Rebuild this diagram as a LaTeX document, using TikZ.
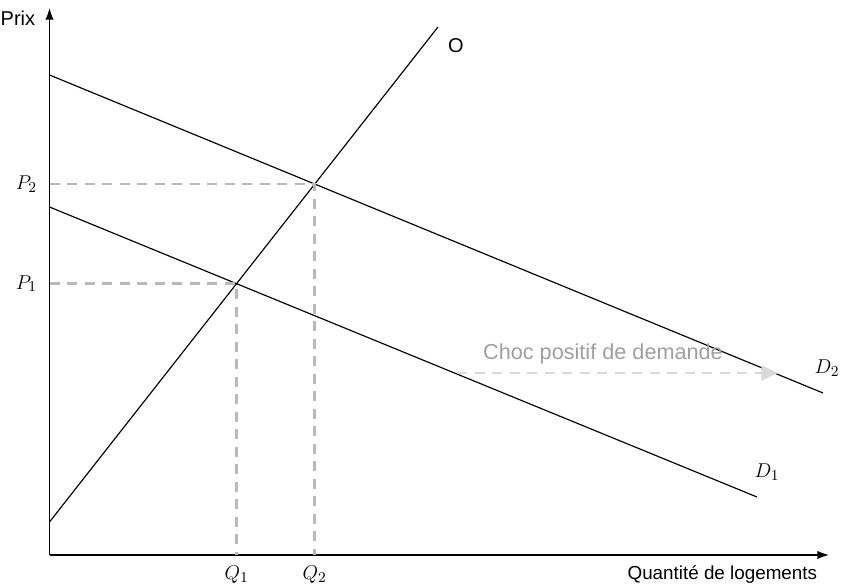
\documentclass[tikz,border=0pt]{standalone}
\usepackage{fontspec}
\setmainfont{Liberation Sans}
\usetikzlibrary{arrows.meta,intersections}
\begin{document}
\begin{tikzpicture}[
  x=0.6pt, y=-0.6pt,
  every node/.style={font=\fontsize{11.3}{13}\selectfont},
  mlabel/.style={font=\fontsize{12.5}{14}\selectfont},
  axis/.style={line width=0.8pt, -{Latex[length=7pt,width=5pt]}},
  curve/.style={line width=0.7pt},
  guide/.style={gray!55, line width=1.6pt, dash pattern=on 6pt off 4.5pt},
  shock/.style={gray!30, line width=1.6pt, dash pattern=on 6pt off 4.5pt,
    -{Triangle[length=10pt,width=9pt]}}
]
\useasboundingbox (0,0) rectangle (841,584);
% axes
\coordinate (origin) at (49.5,555);
\draw[axis] (origin) -- (49.5,8) coordinate (ytop);
\draw[axis] (origin) -- (829,555) coordinate (xend);
\node[anchor=east, font=\fontsize{12}{14}\selectfont] (prix) at (41,18) {Prix};
\node[anchor=north east] (quant) at (823,560) {Quantité de logements};
% supply and demand
\draw[curve, name path=offre] (49.5,522) coordinate (o0) -- (438,27) coordinate (o1);
\draw[curve, name path=dem1] (49.5,207) coordinate (da0) -- (757,497) coordinate (da1);
\draw[curve, name path=dem2] (49.5,75) coordinate (db0) -- (823,393) coordinate (db1);
\node[font=\fontsize{12}{14}\selectfont] (labO) at (456,46) {O};
\node[mlabel] (labD1) at (767,472) {$D_1$};
\node[mlabel] (labD2) at (827,368) {$D_2$};
% equilibria
\path[name intersections={of=offre and dem1, by=e1}];
\path[name intersections={of=offre and dem2, by=e2}];
\draw[guide] (origin |- e1) -- (e1) -- (e1 |- origin);
\draw[guide] (origin |- e2) -- (e2) -- (e2 |- origin);
\node[mlabel, anchor=east] (p1) at ([xshift=-4pt]origin |- e1) {$P_1$};
\node[mlabel, anchor=east] (p2) at ([xshift=-4pt]origin |- e2) {$P_2$};
\node[mlabel, anchor=north] (q1) at ([yshift=-3pt]e1 |- origin) {$Q_1$};
\node[mlabel, anchor=north] (q2) at ([yshift=-3pt]e2 |- origin) {$Q_2$};
% shift
\coordinate (s0) at (457,373);
\coordinate (s1) at (778,373);
\draw[shock] (s0) -- (s1);
\node[gray!75, font=\fontsize{13}{15}\selectfont] (choc) at (603,354) {Choc positif de demande};
\end{tikzpicture}
\end{document}
